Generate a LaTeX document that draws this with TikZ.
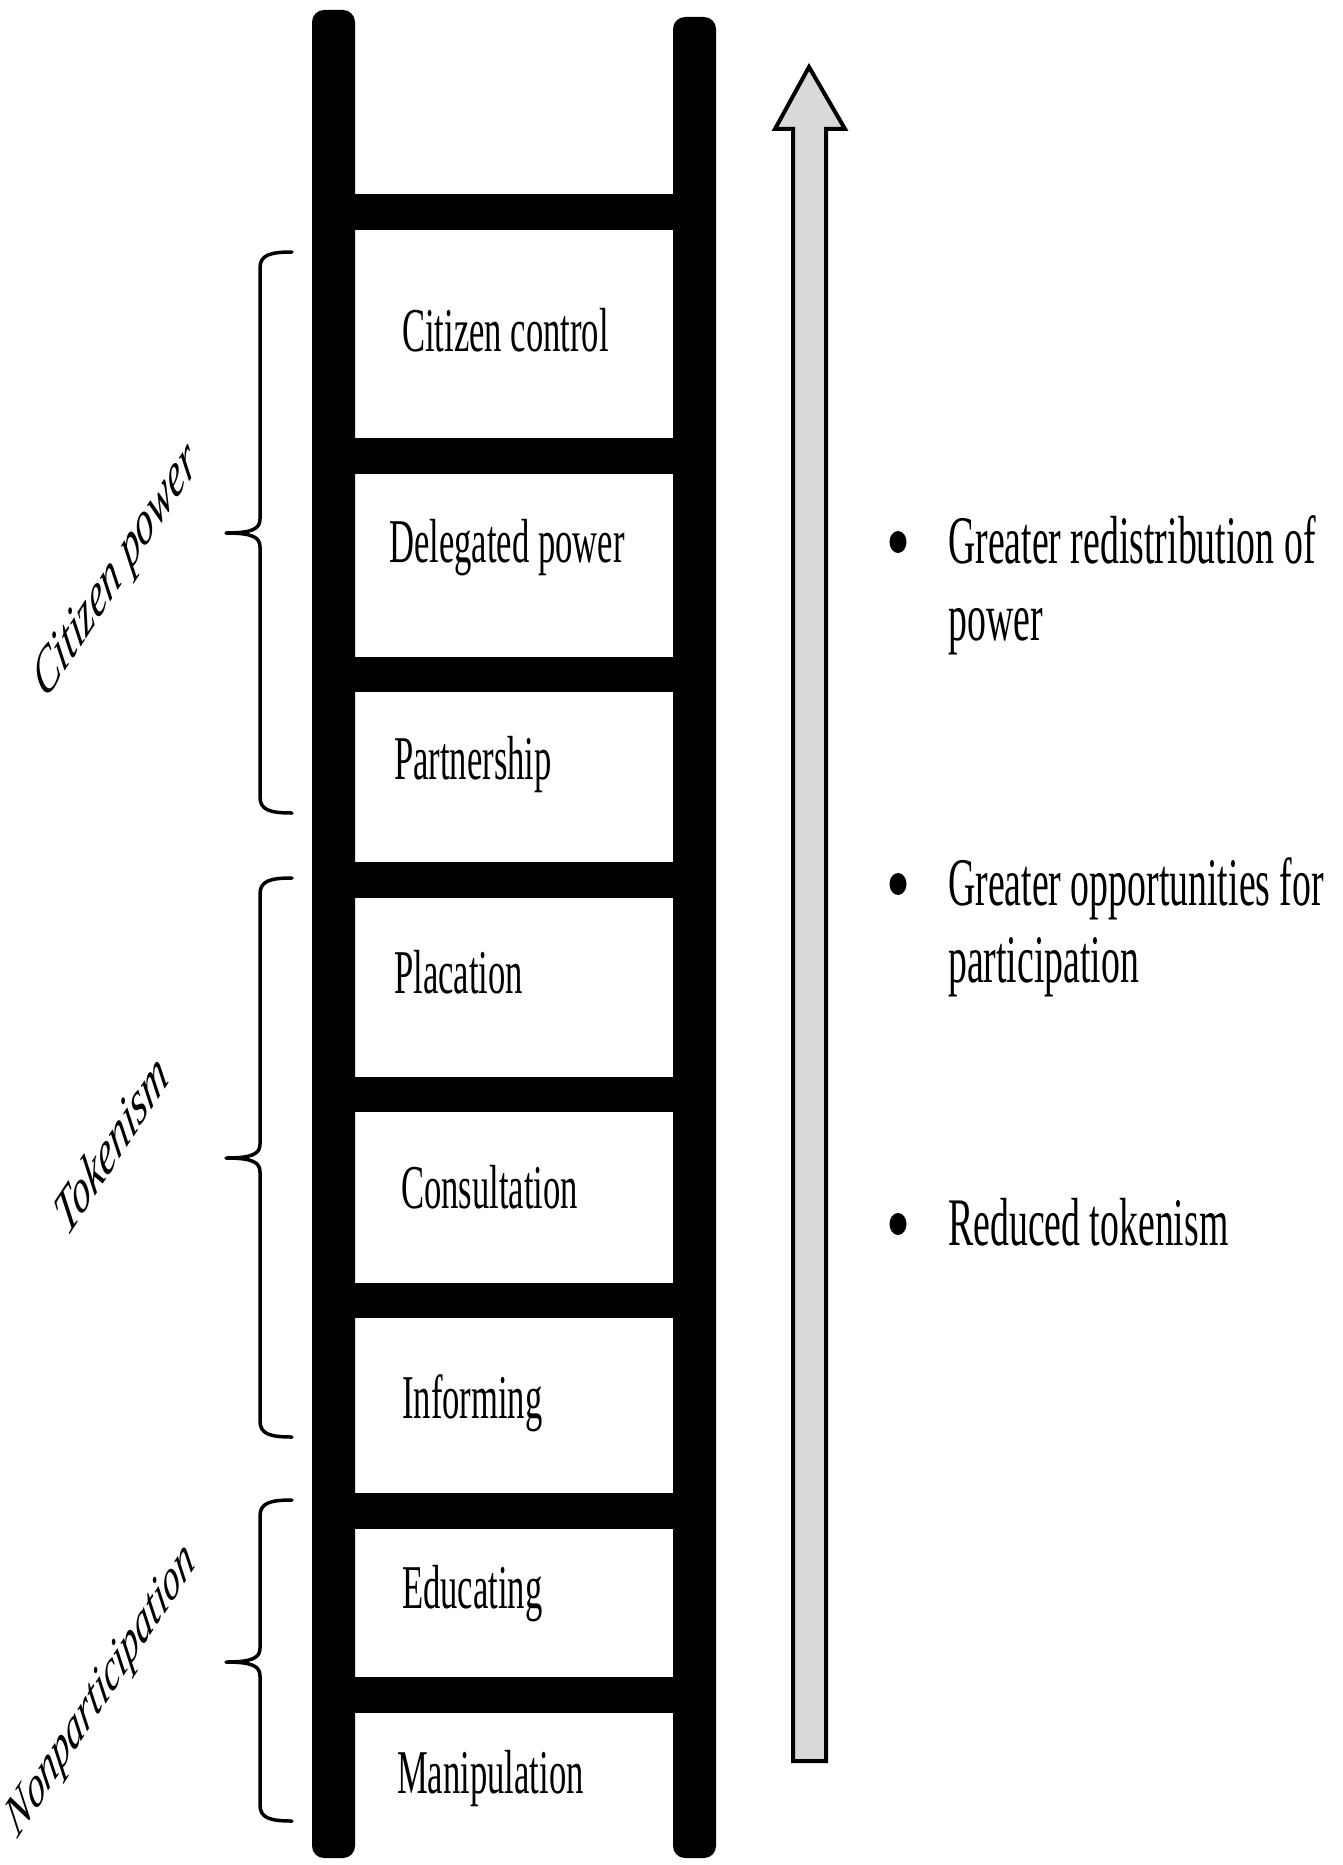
\documentclass[tikz,border=0pt]{standalone}
\usepackage{fontspec}
\setmainfont{Liberation Serif}
\usepackage{graphicx}
\definecolor{shaftgray}{HTML}{D9D9D9}

% tall, narrow lettering used throughout
\newcommand\tallbox[1]{\scalebox{1}[1.8]{#1}}

% curly group brace: top y, middle y, bottom y
\newcommand\grpbrace[3]{%
  \draw[bracestroke]
    (292,#1) .. controls (270,#1) and (260,#1+3) .. (260,#1+16)
    -- (260,#2-14) .. controls (260,#2-4) and (252,#2) .. (226,#2)
    .. controls (252,#2) and (260,#2+4) .. (260,#2+14)
    -- (260,#3-16) .. controls (260,#3-3) and (270,#3) .. (292,#3);}

\begin{document}
\begin{tikzpicture}[x=1pt,y=-1pt,
  rail/.style={fill=black, rounded corners=12pt},
  rung/.style={fill=black},
  rungtext/.style={anchor=base west, inner sep=0pt, font=\fontsize{34.6}{40}\selectfont},
  itemtext/.style={anchor=base west, inner sep=0pt, font=\fontsize{37.8}{42.8}\selectfont},
  grouplabel/.style={anchor=center, inner sep=0pt},
  bracestroke/.style={line width=3.5pt, line cap=round, line join=round},
  arrowbody/.style={draw=black, line width=4pt, fill=shaftgray, line join=miter},
  dot/.style={fill=black}
]
\useasboundingbox (0,0) rectangle (1342,1865);

% ladder rails
\fill[rail] (312,10) rectangle (355,1858);
\fill[rail] (673,17) rectangle (716,1858);

% ladder rungs
\foreach \ya/\yb in {194/230, 438/474, 657/692, 862/898, 1077/1112, 1283/1318, 1493/1529, 1677/1713}
  \fill[rung] (354,\ya) rectangle (674,\yb);

% rung labels
\node[rungtext] (cc)  at (402,351)  {\tallbox{Citizen control}};
\node[rungtext] (dp)  at (389,562)  {\tallbox{Delegated power}};
\node[rungtext] (pa)  at (394,779)  {\tallbox{Partnership}};
\node[rungtext] (pl)  at (394,993)  {\tallbox{Placation}};
\node[rungtext] (co)  at (401,1208) {\tallbox{Consultation}};
\node[rungtext] (inf) at (402,1418) {\tallbox{Informing}};
\node[rungtext] (ed)  at (402,1608) {\tallbox{Educating}};
\node[rungtext] (ma)  at (397,1793) {\tallbox{Manipulation}};

% group braces
\grpbrace{252}{533}{813}
\grpbrace{878}{1158}{1437}
\grpbrace{1500}{1662}{1821}

% group labels
\node[grouplabel] (gcp) at (117,573)
  {\fontsize{36}{40}\selectfont\tallbox{\rotatebox{40.4}{\itshape Citizen power}}};
\node[grouplabel] (gtk) at (111,1143)
  {\fontsize{36}{40}\selectfont\tallbox{\rotatebox{40.4}{\itshape Tokenism}}};
\node[grouplabel] (gnp) at (102,1692)
  {\fontsize{34}{40}\selectfont\tallbox{\rotatebox{40.4}{\itshape Nonparticipation}}};

% upward arrow
\draw[arrowbody] (793,1761) -- (793,129) -- (775,129) -- (809,67)
  -- (845,129) -- (826,129) -- (826,1761) -- cycle;

% outcome list
\fill[dot] (898,542) ellipse [x radius=8.5pt, y radius=11pt];
\node[itemtext] (o1) at (948,563)
  {\tallbox{\begin{tabular}[t]{@{}l@{}}Greater redistribution of\\power\end{tabular}}};
\fill[dot] (898,884) ellipse [x radius=8.5pt, y radius=11pt];
\node[itemtext] (o2) at (948,905)
  {\tallbox{\begin{tabular}[t]{@{}l@{}}Greater opportunities for\\participation\end{tabular}}};
\fill[dot] (898,1224) ellipse [x radius=8.5pt, y radius=11pt];
\node[itemtext] (o3) at (948,1245) {\tallbox{Reduced tokenism}};
\end{tikzpicture}
\end{document}
